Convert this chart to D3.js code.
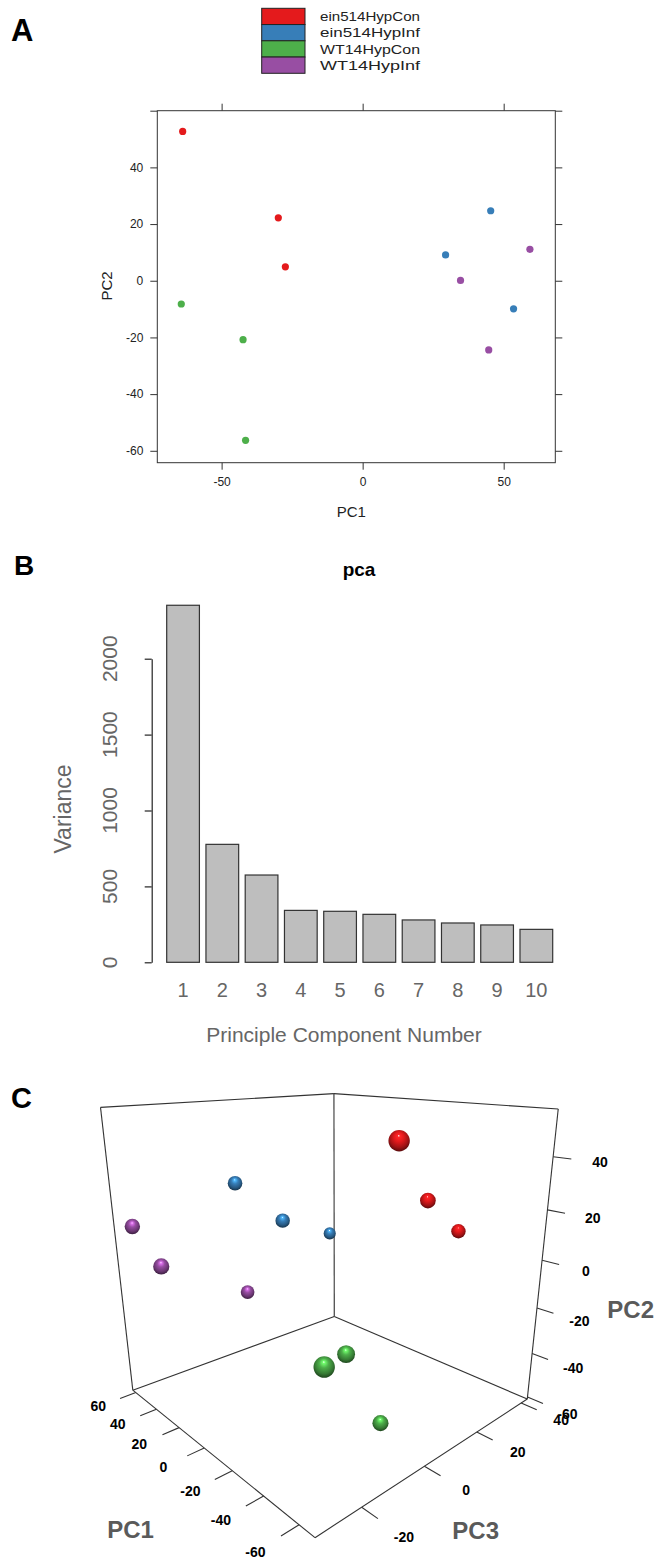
<!DOCTYPE html>
<html><head><meta charset="utf-8">
<script src="https://cdn.jsdelivr.net/npm/d3@7"></script>
<style>
body{margin:0;background:#fff}
svg{display:block}
text{font-family:Arial,"Liberation Sans",sans-serif}
</style>
</head><body>
<svg id="chart" width="657" height="1559"></svg>
<script>
// ---------------- DATA ----------------
const groups = ["ein514HypCon","ein514HypInf","WT14HypCon","WT14HypInf"];
const groupColors = ["#E41A1C","#377EB8","#4DAF4A","#984EA3"];
const sampleGroup = ["ein514HypCon","ein514HypCon","ein514HypCon",
                     "ein514HypInf","ein514HypInf","ein514HypInf",
                     "WT14HypCon","WT14HypCon","WT14HypCon",
                     "WT14HypInf","WT14HypInf","WT14HypInf"];
const pc1 = [-63.8,-29.9,-27.4, 45.4,29.4,53.5, -64.3,-42.4,-41.5, 59.3,34.7,44.7];
const pc2 = [52.7,22.2,4.9, 24.7,9.1,-9.9, -8.2,-20.8,-56.3, 11.1,0.1,-24.4];
const pc3 = [-9.0,24.7,40.2, -2.6,5.9,35.9, -28.0,-10.2,2.0, -28.9,-29.2,-0.5];
const scatterTicksX = [-50,0,50];
const scatterTicksY = [-60,-40,-20,0,20,40,60];
const componentNumbers = [1,2,3,4,5,6,7,8,9,10];
const variances = [2352,777,575,342,336,316,279,259,246,217];
const varianceTicks = [0,500,1000,1500,2000];
const pc1Ticks3d = [-60,-40,-20,0,20,40,60];
const pc2Ticks3d = [-60,-40,-20,0,20,40];
const pc3Ticks3d = [-20,0,20,40];

const svg = d3.select("#chart");
const colorOf = d3.scaleOrdinal().domain(groups).range(groupColors);

// panel letters
[["A",11,41,31],["B",14,575,28],["C",11,1108,29]].forEach(([t,x,y,s])=>{
  svg.append("text").text(t).attr("x",x).attr("y",y).attr("font-size",s)
     .attr("font-weight","bold").attr("fill","#000");
});

// ---------------- PANEL A ----------------
const gA = svg.append("g");
const legRow = d3.scaleBand().domain(groups).range([8.3,73.3]);
groups.forEach(g=>{
  gA.append("rect").attr("x",261.7).attr("y",legRow(g)).attr("width",43.3)
    .attr("height",legRow.bandwidth()).attr("fill",colorOf(g))
    .attr("stroke","#222").attr("stroke-width",1);
  gA.append("text").attr("x",320).attr("y",legRow(g)+legRow.bandwidth()/2)
    .attr("dy","0.36em").attr("font-size",13).attr("fill","#222")
    .attr("textLength",100).attr("lengthAdjust","spacingAndGlyphs").text(g);
});

const ax = d3.scaleLinear().domain([-72.8,68.3]).range([157.3,555.3]);
const ay = d3.scaleLinear().domain([-64.2,60]).range([462.7,110.7]);
const axCol = "#333";
function styleAxis(g, fs){
  g.select(".domain").remove();
  g.selectAll(".tick line").attr("stroke",axCol);
  g.selectAll(".tick text").attr("fill","#222").attr("font-size",fs)
   .attr("font-family","Arial, 'Liberation Sans', sans-serif");
}
gA.append("g").attr("transform",`translate(0,${ay.range()[0]})`)
  .call(d3.axisBottom(ax).tickValues(scatterTicksX).tickSize(7).tickPadding(8).tickFormat(d=>String(d)))
  .call(g=>styleAxis(g,12));
gA.append("g").attr("transform",`translate(0,${ay.range()[1]})`)
  .call(d3.axisTop(ax).tickValues(scatterTicksX).tickSize(7).tickFormat(""))
  .call(g=>styleAxis(g,12));
gA.append("g").attr("transform",`translate(${ax.range()[0]},0)`)
  .call(d3.axisLeft(ay).tickValues(scatterTicksY).tickSize(7).tickPadding(7).tickFormat(d=>d===60?"":String(d)))
  .call(g=>styleAxis(g,12));
gA.append("g").attr("transform",`translate(${ax.range()[1]},0)`)
  .call(d3.axisRight(ay).tickValues(scatterTicksY).tickSize(7).tickFormat(""))
  .call(g=>styleAxis(g,12));
gA.append("rect").attr("x",ax.range()[0]).attr("y",ay.range()[1])
  .attr("width",ax.range()[1]-ax.range()[0]).attr("height",ay.range()[0]-ay.range()[1])
  .attr("fill","none").attr("stroke",axCol).attr("stroke-width",1);
gA.selectAll("circle.pt").data(d3.range(pc1.length)).join("circle")
  .attr("cx",i=>ax(pc1[i])).attr("cy",i=>ay(pc2[i])).attr("r",3.6)
  .attr("fill",i=>colorOf(sampleGroup[i]));
gA.append("text").attr("x",(ax.range()[0]+ax.range()[1])/2-5).attr("y",517)
  .attr("text-anchor","middle").attr("font-size",15).attr("fill","#222").text("PC1");
gA.append("text").attr("transform","translate(111.5,286) rotate(-90)")
  .attr("text-anchor","middle").attr("font-size",15).attr("fill","#222").text("PC2");

// ---------------- PANEL B ----------------
const gB = svg.append("g");
const bx = d3.scaleBand().domain(componentNumbers).range([166.7,552.7]).paddingInner(0.2/1.2).paddingOuter(0);
const by = d3.scaleLinear().domain([0,2000]).range([962.3,658.7]);
gB.selectAll("rect.bar").data(componentNumbers).join("rect")
  .attr("x",d=>bx(d)).attr("width",bx.bandwidth())
  .attr("y",(d,i)=>by(variances[i])).attr("height",(d,i)=>by(0)-by(variances[i]))
  .attr("fill","#bebebe").attr("stroke","#333").attr("stroke-width",1.2);
gB.append("g").attr("transform",`translate(151.7,0)`)
  .call(d3.axisLeft(by).tickValues(varianceTicks).tickSize(7).tickSizeOuter(0).tickFormat(""))
  .call(g=>{g.select(".domain").attr("stroke","#222").attr("stroke-width",1.2);
            g.selectAll(".tick line").attr("stroke","#222").attr("stroke-width",1.2);});
gB.selectAll("text.yl").data(varianceTicks).join("text")
  .attr("transform",d=>`translate(116.5,${by(d)}) rotate(-90)`)
  .attr("text-anchor","middle").attr("font-size",21).attr("fill","#666").text(d=>d);
gB.selectAll("text.xl").data(componentNumbers).join("text")
  .attr("x",d=>bx(d)+bx.bandwidth()/2).attr("y",997)
  .attr("text-anchor","middle").attr("font-size",20).attr("fill","#666").text(d=>d);
gB.append("text").attr("x",359).attr("y",576).attr("text-anchor","middle")
  .attr("font-size",19).attr("font-weight","bold").attr("fill","#000").text("pca");
gB.append("text").attr("transform","translate(70.5,809) rotate(-90)")
  .attr("text-anchor","middle").attr("font-size",23).attr("fill","#666").text("Variance");
gB.append("text").attr("x",344).attr("y",1041.5).attr("text-anchor","middle")
  .attr("font-size",21).attr("fill","#666").text("Principle Component Number");

// ---------------- PANEL C (3D) ----------------
const gC = svg.append("g");
const cam = {cx:337.1, cy:1262.7, f:637.1, pitch:18.38*Math.PI/180, yaw:-42.87*Math.PI/180};
const box = {x0:-0.04785, z0:1.1214, floorY:-1, a:0.8627, b:0.8566, c:0.8508};
const s1 = d3.scaleLinear().domain([-68.2,63.1]).range([0,1]);
const s2 = d3.scaleLinear().domain([-61,57.1]).range([0,1]);
const s3 = d3.scaleLinear().domain([-32.7,43.0]).range([0,1]);
const sinP = Math.sin(cam.pitch), cosP = Math.cos(cam.pitch);
const u1 = [Math.sin(cam.yaw), Math.cos(cam.yaw)];
const u3 = [Math.cos(cam.yaw), -Math.sin(cam.yaw)];
function toWorld(t1,t2,t3){
  return [box.x0 + box.a*t1*u1[0] + box.c*t3*u3[0],
          box.floorY + box.b*t2,
          box.z0 + box.a*t1*u1[1] + box.c*t3*u3[1]];
}
function project([X,Y,Z]){
  const d = -Y*sinP + Z*cosP;
  const u = Y*cosP + Z*sinP;
  return [cam.cx + cam.f*X/d, cam.cy - cam.f*u/d, d];
}
const P = (t1,t2,t3)=>project(toWorld(t1,t2,t3));
const lineCol = "#333";
function seg(a,b,w){
  gC.append("line").attr("x1",a[0]).attr("y1",a[1]).attr("x2",b[0]).attr("y2",b[1])
    .attr("stroke",lineCol).attr("stroke-width",w||1.1);
}
const K = {F:[0,0,0],L:[1,0,0],R:[0,0,1],B:[1,0,1],Lt:[1,1,0],Bt:[1,1,1],Rt:[0,1,1]};
[["L","B"],["B","R"],["L","F"],["F","R"],["L","Lt"],["B","Bt"],["R","Rt"],["Lt","Bt"],["Bt","Rt"]]
  .forEach(([a,b])=>seg(P(...K[a]),P(...K[b])));
const tickLen = 0.06, labOff = 0.15;
function tickLabel(p,t){
  gC.append("text").attr("x",p[0]).attr("y",p[1]).attr("dy","0.33em")
    .attr("text-anchor","middle").attr("font-size",14).attr("font-weight","bold")
    .attr("fill","#000").text(t);
}
pc1Ticks3d.forEach(v=>{const t=s1(v); seg(P(t,0,0),P(t,0,-tickLen)); tickLabel(P(t,0,-0.14),v);});
pc3Ticks3d.forEach(v=>{const t=s3(v); seg(P(0,0,t),P(-tickLen,0,t)); tickLabel(P(-labOff,0,t),v);});
pc2Ticks3d.forEach(v=>{const t=s2(v); seg(P(0,t,1),P(-tickLen,t,1)); tickLabel(P(-labOff,t,1),v);});
function axisTitle(p,t){
  gC.append("text").attr("x",p[0]).attr("y",p[1]).attr("dy","0.36em").attr("text-anchor","middle")
    .attr("font-family","'Open Sans', Arial, sans-serif").attr("font-size",24).attr("font-weight",700)
    .attr("fill","#5a5a5a").text(t);
}
axisTitle(P(0.344,0,-0.33),"PC1");
axisTitle(P(-0.26,0,0.32),"PC3");
axisTitle(P(-0.3,0.435,1),"PC2");

// spheres
const defs = svg.append("defs");
groups.forEach((g,i)=>{
  const c = d3.color(groupColors[i]);
  const gr = defs.append("radialGradient").attr("id","sph"+i)
    .attr("cx","50%").attr("cy","42%").attr("r","58%").attr("fx","48%").attr("fy","26%");
  [[0,"#ffffff"],[0.1,c.brighter(1.1).formatHex()],[0.38,c.formatHex()],
   [0.75,c.darker(1.0).formatHex()],[1,c.darker(2.6).formatHex()]]
   .forEach(([o,col])=>gr.append("stop").attr("offset",o).attr("stop-color",col));
});
const sphereR = 0.022;
const spheres = d3.range(pc1.length).map(i=>{
  const p = P(s1(pc1[i]), s2(pc2[i]), s3(pc3[i]));
  return {i, x:p[0], y:p[1], d:p[2], r:cam.f*sphereR/p[2], g:groups.indexOf(sampleGroup[i])};
}).sort((a,b)=>b.d-a.d);
gC.selectAll("circle.sph").data(spheres).join("circle")
  .attr("cx",d=>d.x).attr("cy",d=>d.y).attr("r",d=>d.r)
  .attr("fill",d=>`url(#sph${d.g})`);
</script>
</body></html>
